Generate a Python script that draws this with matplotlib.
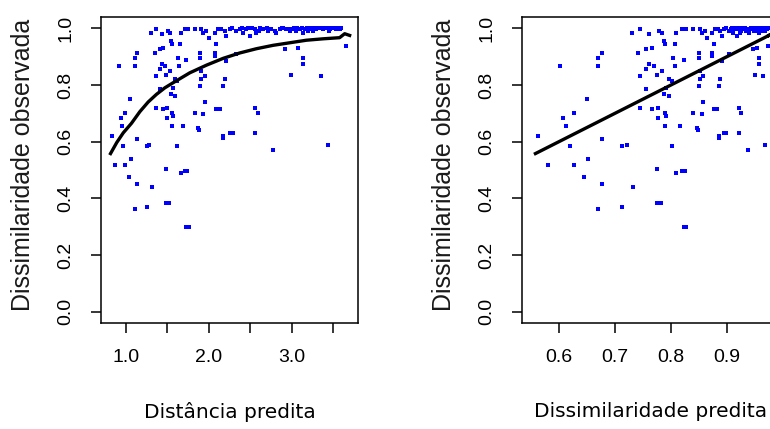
import matplotlib
matplotlib.use('Agg')
import matplotlib.pyplot as plt
import numpy as np

dist_predita = [
    1.309, 1.369, 1.430, 1.510, 1.530, 1.659, 1.711, 1.751, 1.831, 1.912,
    1.932, 1.972, 2.004, 2.072, 2.112, 2.153, 2.193, 2.213, 2.253, 2.333,
    2.373, 2.414, 2.454, 2.494, 2.554, 2.574, 2.655, 2.755, 2.795, 2.815,
    2.855, 2.936, 2.976, 3.016, 3.056, 3.096, 3.137, 3.157, 3.217, 3.257,
    3.297, 3.378, 3.458, 3.538, 3.578,
    2.28, 2.40, 2.47, 2.52, 2.62, 2.70, 2.88, 2.90, 3.03, 3.07,
    3.12, 3.18, 3.23, 3.28, 3.32, 3.35, 3.40, 3.43, 3.48, 3.50,
    3.55, 3.60, 2.60, 2.72, 2.98, 3.20, 3.45,
    1.550, 1.562, 1.651, 2.092, 1.129, 1.108, 1.349, 1.410, 1.450, 1.892,
    1.892, 2.072, 2.072, 1.108, 0.920, 1.430, 1.470, 1.410, 1.530, 1.490,
    1.631, 1.731, 1.643, 1.369, 1.912, 1.952, 2.193, 2.213, 2.333, 2.916,
    3.076, 3.137, 3.137, 2.996, 3.357, 3.659, 1.590, 1.618, 1.570, 1.550,
    1.590, 1.912, 1.892, 2.173, 1.410, 1.048, 1.952, 1.369, 1.450, 1.498,
    1.562, 1.570, 1.498, 1.831, 1.932, 2.092, 2.133, 2.554, 2.594, 0.936,
    0.988, 0.948, 1.562, 1.691, 1.871, 1.884, 2.253, 2.293, 2.173, 2.173,
    2.554, 0.827, 1.129, 1.281, 1.249, 0.968, 1.618, 3.438, 2.775, 0.867,
    0.988, 1.056,
    1.490, 1.659, 1.711, 1.739, 1.036, 1.129, 1.321, 1.108, 1.249, 1.490,
    1.522, 1.731, 1.759,
]
diss_observada = [
    0.985, 0.999, 0.981, 0.991, 0.985, 0.985, 0.999, 0.996, 0.996, 0.999,
    0.985, 0.991, 0.967, 0.985, 0.996, 0.999, 0.991, 0.973, 0.999, 0.991,
    0.996, 0.985, 0.999, 0.973, 0.999, 0.985, 0.999, 0.999, 0.991, 0.985,
    0.996, 0.999, 0.996, 0.999, 0.991, 0.999, 0.985, 0.996, 0.999, 0.991,
    0.999, 0.999, 0.999, 0.999, 0.999,
    1.0, 1.0, 1.0, 1.0, 1.0, 1.0, 1.0, 1.0, 1.0, 1.0,
    1.0, 1.0, 1.0, 1.0, 1.0, 1.0, 1.0, 1.0, 1.0, 1.0,
    1.0, 1.0, 0.990, 0.990, 0.990, 0.990, 0.990,
    0.955, 0.943, 0.943, 0.943, 0.914, 0.896, 0.914, 0.926, 0.932, 0.914,
    0.896, 0.914, 0.902, 0.867, 0.867, 0.873, 0.867, 0.855, 0.849, 0.837,
    0.896, 0.890, 0.867, 0.832, 0.849, 0.832, 0.820, 0.885, 0.908, 0.926,
    0.932, 0.896, 0.873, 0.837, 0.832, 0.938, 0.820, 0.814, 0.790, 0.767,
    0.761, 0.820, 0.796, 0.796, 0.787, 0.749, 0.739, 0.720, 0.714, 0.720,
    0.702, 0.690, 0.684, 0.702, 0.696, 0.714, 0.716, 0.720, 0.702, 0.684,
    0.702, 0.655, 0.655, 0.655, 0.649, 0.641, 0.631, 0.631, 0.620, 0.614,
    0.631, 0.620, 0.608, 0.590, 0.584, 0.584, 0.584, 0.590, 0.569, 0.519,
    0.519, 0.539,
    0.505, 0.490, 0.498, 0.498, 0.476, 0.449, 0.441, 0.363, 0.370, 0.384,
    0.384, 0.299, 0.299,
]

curva_x = [0.815, 0.890, 0.968, 1.068, 1.169, 1.269, 1.369, 1.470, 1.570,
           1.771, 1.972, 2.173, 2.373, 2.574, 2.775, 2.976, 3.177, 3.378,
           3.578, 3.639, 3.699]
curva_y = [0.558, 0.597, 0.631, 0.665, 0.706, 0.740, 0.767, 0.790, 0.808,
           0.843, 0.870, 0.894, 0.913, 0.928, 0.940, 0.949, 0.958, 0.963,
           0.967, 0.981, 0.975]

dist_predita = np.array(dist_predita)
diss_observada = np.array(diss_observada)
# dissimilarite predite = 1 - exp(-distance predite) (lien du GDM)
diss_predita = 1 - np.exp(-dist_predita)

fig = plt.figure(figsize=(7.7, 4.29), dpi=100)
W, H = 770, 429
ax1 = fig.add_axes([101 / W, (H - 323) / H, 257 / W, 306 / H])
ax2 = fig.add_axes([522 / W, (H - 323) / H, 257 / W, 306 / H])

tick_font = 'Liberation Sans'

for ax in (ax1, ax2):
    ax.set_ylim(-0.04, 1.04)
    ax.set_yticks([0.0, 0.2, 0.4, 0.6, 0.8, 1.0])
    ax.set_yticklabels(['0.0', '0.2', '0.4', '0.6', '0.8', '1.0'],
                       rotation=90, va='center', family=tick_font, fontsize=14)
    ax.set_ylabel('Dissimilaridade observada', family=tick_font, fontsize=18,
                  color='#1a1a1a')
    ax.yaxis.set_label_coords(-0.305, 0.518)
    ax.yaxis.label.set_verticalalignment('center')
    for s in ax.spines.values():
        s.set_linewidth(1.1)
    ax.tick_params(length=7, width=1.1)
    ax.tick_params(axis='y', pad=12)
    ax.tick_params(axis='x', pad=12)

ax1.scatter(dist_predita, diss_observada, s=8, marker='s', color='blue',
            linewidths=0, zorder=2)
ax1.plot(curva_x, curva_y, color='black', lw=2.4, zorder=3)
ax1.set_xlim(0.70, 3.80)
ax1.set_xticks([1.0, 1.5, 2.0, 2.5, 3.0, 3.5])
ax1.set_xticklabels(['1.0', '', '2.0', '', '3.0', ''], family=tick_font,
                    fontsize=14)
ax1.set_xlabel('Distância predita', family='DejaVu Sans', fontsize=14.5)

ax2.scatter(diss_predita, diss_observada, s=8, marker='s', color='blue',
            linewidths=0, zorder=2)
ax2.plot(curva_y, curva_y, color='black', lw=2.4, zorder=3)
ax2.set_xlim(0.534, 0.993)
ax2.set_xticks([0.6, 0.7, 0.8, 0.9])
ax2.set_xticklabels(['0.6', '0.7', '0.8', '0.9'], family=tick_font,
                    fontsize=14)
ax2.set_xlabel('Dissimilaridade predita', family='DejaVu Sans', fontsize=14.5)

for ax in (ax1, ax2):
    ax.xaxis.set_label_coords(0.5, -0.29)
    ax.xaxis.label.set_verticalalignment('center')

fig.savefig('out.png', dpi=100)
plt.close(fig)
